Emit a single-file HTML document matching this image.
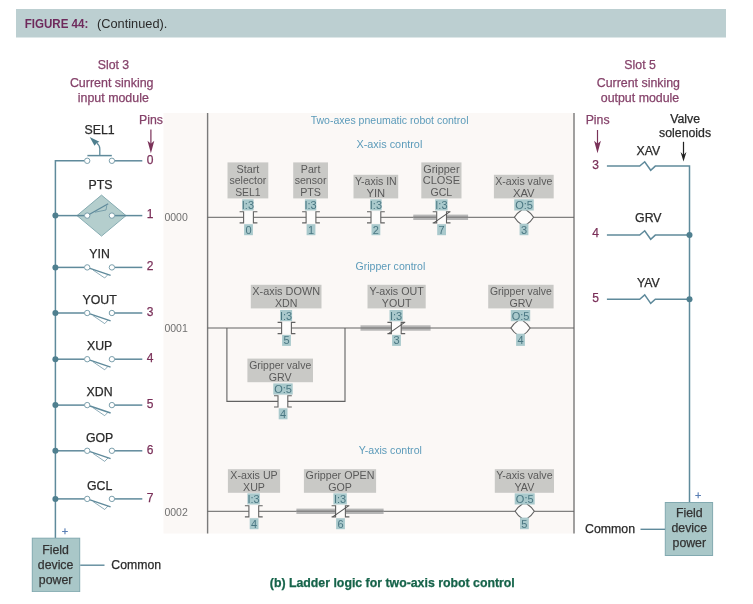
<!DOCTYPE html>
<html lang="en"><head><meta charset="utf-8"><title>Figure 44 (Continued) - Ladder logic for two-axis robot control</title>
<style>
html,body{margin:0;padding:0;background:#fff;}
body{width:753px;height:604px;overflow:hidden;font-family:"Liberation Sans",sans-serif;}
svg{display:block;}
svg text{font-family:"Liberation Sans",sans-serif;}
</style></head><body>
<svg width="753" height="604" viewBox="0 0 753 604">
<defs><filter id="soft0" x="0" y="0" width="100%" height="100%"><feGaussianBlur stdDeviation="0.35"/></filter><filter id="soft" x="-2%" y="-2%" width="104%" height="104%"><feGaussianBlur stdDeviation="0.55"/></filter></defs>
<rect width="753" height="604" fill="#ffffff"/>
<g filter="url(#soft0)">
<rect x="16" y="9" width="710" height="28.5" fill="#bccfd1"/>
<text x="24.7" y="28.1" font-size="13.2" fill="#6e2a5c" text-anchor="start" font-weight="bold" textLength="63.6" lengthAdjust="spacingAndGlyphs">FIGURE 44:</text>
<text x="97" y="28.1" font-size="13.5" fill="#2b2b2b" text-anchor="start" textLength="70.4" lengthAdjust="spacingAndGlyphs">(Continued).</text>
<text x="113.5" y="68.8" font-size="12.3" fill="#85426a" text-anchor="middle" stroke="#85426a" stroke-width="0.25">Slot 3</text>
<text x="111.7" y="87.2" font-size="12.3" fill="#85426a" text-anchor="middle" textLength="83.6" lengthAdjust="spacingAndGlyphs" stroke="#85426a" stroke-width="0.25">Current sinking</text>
<text x="113.3" y="102" font-size="12.3" fill="#85426a" text-anchor="middle" textLength="71" lengthAdjust="spacingAndGlyphs" stroke="#85426a" stroke-width="0.25">input module</text>
<text x="151" y="124.3" font-size="12.3" fill="#85426a" text-anchor="middle" stroke="#85426a" stroke-width="0.25">Pins</text>
<line x1="150.9" y1="129.5" x2="150.9" y2="149.3" stroke="#7a3059" stroke-width="1.2"/>
<path d="M147.5 140.8 L150.9 143.8 L154.3 140.8 L150.9 153.3 Z" fill="#7a3059"/>
<path d="M55.4 538 V160.8 H84" fill="none" stroke="#5f8a9b" stroke-width="1.5"/>
<line x1="114.9" y1="160.8" x2="142.3" y2="160.8" stroke="#5f8a9b" stroke-width="1.5"/>
<circle cx="87.2" cy="160.8" r="2.7" fill="#fff" stroke="#7a9eab" stroke-width="1"/>
<circle cx="111.9" cy="160.8" r="2.7" fill="#fff" stroke="#7a9eab" stroke-width="1"/>
<line x1="87.4" y1="155.60000000000002" x2="111.8" y2="155.60000000000002" stroke="#5f8a9b" stroke-width="1.5"/>
<path d="M99.8 155.60000000000002 V148.8 Q99.8 145.20000000000002 96.9 143.20000000000002" fill="none" stroke="#5f8a9b" stroke-width="1.3"/>
<path d="M89.7 137.0 L99.4 141.70000000000002 L96.6 143.20000000000002 L94.5 145.70000000000002 Z" fill="#4f7f8f"/>
<text x="99.6" y="134.20000000000002" font-size="12.3" fill="#2a2a2a" text-anchor="middle" stroke="#2a2a2a" stroke-width="0.25">SEL1</text>
<text x="150" y="163.5" font-size="12" fill="#7a3059" text-anchor="middle" stroke="#7a3059" stroke-width="0.25">0</text>
<path d="M77 215.6 L101.5 195.1 L126 215.6 L101.5 236.1 Z" fill="#b4cecd" stroke="#86abb1" stroke-width="1"/>
<line x1="55.4" y1="215.6" x2="84.2" y2="215.6" stroke="#5f8a9b" stroke-width="1.5"/>
<circle cx="55.4" cy="215.6" r="3" fill="#4f7f8f"/>
<line x1="114.9" y1="215.6" x2="142.3" y2="215.6" stroke="#5f8a9b" stroke-width="1.5"/>
<circle cx="87.2" cy="215.6" r="2.7" fill="#fff" stroke="#7a9eab" stroke-width="1"/>
<circle cx="111.9" cy="215.6" r="2.7" fill="#fff" stroke="#7a9eab" stroke-width="1"/>
<path d="M89.60000000000001 214.29999999999998 L108.2 203.79999999999998" fill="none" stroke="#5f8a9b" stroke-width="1.3"/>
<path d="M106.8 205.4 L106 210.0 L95 212.2" fill="none" stroke="#5f8a9b" stroke-width="0.7"/>
<text x="100.4" y="189.0" font-size="12.3" fill="#2a2a2a" text-anchor="middle" stroke="#2a2a2a" stroke-width="0.25">PTS</text>
<text x="150" y="218.29999999999998" font-size="12" fill="#7a3059" text-anchor="middle" stroke="#7a3059" stroke-width="0.25">1</text>
<line x1="55.4" y1="267.4" x2="84.2" y2="267.4" stroke="#5f8a9b" stroke-width="1.5"/>
<circle cx="55.4" cy="267.4" r="3" fill="#4f7f8f"/>
<line x1="114.9" y1="267.4" x2="142.3" y2="267.4" stroke="#5f8a9b" stroke-width="1.5"/>
<circle cx="87.2" cy="267.4" r="2.7" fill="#fff" stroke="#7a9eab" stroke-width="1"/>
<circle cx="111.9" cy="267.4" r="2.7" fill="#fff" stroke="#7a9eab" stroke-width="1"/>
<path d="M90.0 268.29999999999995 L110.6 275.29999999999995" fill="none" stroke="#5f8a9b" stroke-width="1.4"/>
<path d="M108 274.5 L104.7 278.0 L93 270.0" fill="none" stroke="#5f8a9b" stroke-width="0.7"/>
<text x="99.6" y="258.2" font-size="12.3" fill="#2a2a2a" text-anchor="middle" stroke="#2a2a2a" stroke-width="0.25">YIN</text>
<text x="150" y="270.09999999999997" font-size="12" fill="#7a3059" text-anchor="middle" stroke="#7a3059" stroke-width="0.25">2</text>
<line x1="55.4" y1="313" x2="84.2" y2="313" stroke="#5f8a9b" stroke-width="1.5"/>
<circle cx="55.4" cy="313" r="3" fill="#4f7f8f"/>
<line x1="114.9" y1="313" x2="142.3" y2="313" stroke="#5f8a9b" stroke-width="1.5"/>
<circle cx="87.2" cy="313" r="2.7" fill="#fff" stroke="#7a9eab" stroke-width="1"/>
<circle cx="111.9" cy="313" r="2.7" fill="#fff" stroke="#7a9eab" stroke-width="1"/>
<path d="M90.0 313.9 L110.6 320.9" fill="none" stroke="#5f8a9b" stroke-width="1.4"/>
<path d="M108 320.1 L104.7 323.6 L93 315.6" fill="none" stroke="#5f8a9b" stroke-width="0.7"/>
<text x="99.6" y="303.8" font-size="12.3" fill="#2a2a2a" text-anchor="middle" stroke="#2a2a2a" stroke-width="0.25">YOUT</text>
<text x="150" y="315.7" font-size="12" fill="#7a3059" text-anchor="middle" stroke="#7a3059" stroke-width="0.25">3</text>
<line x1="55.4" y1="359.2" x2="84.2" y2="359.2" stroke="#5f8a9b" stroke-width="1.5"/>
<circle cx="55.4" cy="359.2" r="3" fill="#4f7f8f"/>
<line x1="114.9" y1="359.2" x2="142.3" y2="359.2" stroke="#5f8a9b" stroke-width="1.5"/>
<circle cx="87.2" cy="359.2" r="2.7" fill="#fff" stroke="#7a9eab" stroke-width="1"/>
<circle cx="111.9" cy="359.2" r="2.7" fill="#fff" stroke="#7a9eab" stroke-width="1"/>
<path d="M90.0 360.09999999999997 L110.6 367.09999999999997" fill="none" stroke="#5f8a9b" stroke-width="1.4"/>
<path d="M108 366.3 L104.7 369.8 L93 361.8" fill="none" stroke="#5f8a9b" stroke-width="0.7"/>
<text x="99.6" y="350.0" font-size="12.3" fill="#2a2a2a" text-anchor="middle" stroke="#2a2a2a" stroke-width="0.25">XUP</text>
<text x="150" y="361.9" font-size="12" fill="#7a3059" text-anchor="middle" stroke="#7a3059" stroke-width="0.25">4</text>
<line x1="55.4" y1="405.1" x2="84.2" y2="405.1" stroke="#5f8a9b" stroke-width="1.5"/>
<circle cx="55.4" cy="405.1" r="3" fill="#4f7f8f"/>
<line x1="114.9" y1="405.1" x2="142.3" y2="405.1" stroke="#5f8a9b" stroke-width="1.5"/>
<circle cx="87.2" cy="405.1" r="2.7" fill="#fff" stroke="#7a9eab" stroke-width="1"/>
<circle cx="111.9" cy="405.1" r="2.7" fill="#fff" stroke="#7a9eab" stroke-width="1"/>
<path d="M90.0 406.0 L110.6 413.0" fill="none" stroke="#5f8a9b" stroke-width="1.4"/>
<path d="M108 412.20000000000005 L104.7 415.70000000000005 L93 407.70000000000005" fill="none" stroke="#5f8a9b" stroke-width="0.7"/>
<text x="99.6" y="395.90000000000003" font-size="12.3" fill="#2a2a2a" text-anchor="middle" stroke="#2a2a2a" stroke-width="0.25">XDN</text>
<text x="150" y="407.8" font-size="12" fill="#7a3059" text-anchor="middle" stroke="#7a3059" stroke-width="0.25">5</text>
<line x1="55.4" y1="450.8" x2="84.2" y2="450.8" stroke="#5f8a9b" stroke-width="1.5"/>
<circle cx="55.4" cy="450.8" r="3" fill="#4f7f8f"/>
<line x1="114.9" y1="450.8" x2="142.3" y2="450.8" stroke="#5f8a9b" stroke-width="1.5"/>
<circle cx="87.2" cy="450.8" r="2.7" fill="#fff" stroke="#7a9eab" stroke-width="1"/>
<circle cx="111.9" cy="450.8" r="2.7" fill="#fff" stroke="#7a9eab" stroke-width="1"/>
<path d="M90.0 451.7 L110.6 458.7" fill="none" stroke="#5f8a9b" stroke-width="1.4"/>
<path d="M108 457.90000000000003 L104.7 461.40000000000003 L93 453.40000000000003" fill="none" stroke="#5f8a9b" stroke-width="0.7"/>
<text x="99.6" y="441.6" font-size="12.3" fill="#2a2a2a" text-anchor="middle" stroke="#2a2a2a" stroke-width="0.25">GOP</text>
<text x="150" y="453.5" font-size="12" fill="#7a3059" text-anchor="middle" stroke="#7a3059" stroke-width="0.25">6</text>
<line x1="55.4" y1="498.9" x2="84.2" y2="498.9" stroke="#5f8a9b" stroke-width="1.5"/>
<circle cx="55.4" cy="498.9" r="3" fill="#4f7f8f"/>
<line x1="114.9" y1="498.9" x2="142.3" y2="498.9" stroke="#5f8a9b" stroke-width="1.5"/>
<circle cx="87.2" cy="498.9" r="2.7" fill="#fff" stroke="#7a9eab" stroke-width="1"/>
<circle cx="111.9" cy="498.9" r="2.7" fill="#fff" stroke="#7a9eab" stroke-width="1"/>
<path d="M90.0 499.79999999999995 L110.6 506.79999999999995" fill="none" stroke="#5f8a9b" stroke-width="1.4"/>
<path d="M108 506.0 L104.7 509.5 L93 501.5" fill="none" stroke="#5f8a9b" stroke-width="0.7"/>
<text x="99.6" y="489.7" font-size="12.3" fill="#2a2a2a" text-anchor="middle" stroke="#2a2a2a" stroke-width="0.25">GCL</text>
<text x="150" y="501.59999999999997" font-size="12" fill="#7a3059" text-anchor="middle" stroke="#7a3059" stroke-width="0.25">7</text>
<rect x="32.3" y="538.2" width="47.4" height="53.5" fill="#a9c7c8" stroke="#82a9b0" stroke-width="1"/>
<text x="55.6" y="554.2" font-size="12.3" fill="#333" text-anchor="middle" stroke="#333" stroke-width="0.25">Field</text>
<text x="55.6" y="568.9" font-size="12.3" fill="#333" text-anchor="middle" stroke="#333" stroke-width="0.25">device</text>
<text x="55.6" y="583.8" font-size="12.3" fill="#333" text-anchor="middle" stroke="#333" stroke-width="0.25">power</text>
<text x="64.9" y="535" font-size="11" fill="#5a7fb5" text-anchor="middle" stroke="#5a7fb5" stroke-width="0.25">+</text>
<line x1="80.2" y1="565.2" x2="104.5" y2="565.2" stroke="#5f8a9b" stroke-width="1.4"/>
<text x="111.3" y="568.9" font-size="12.3" fill="#2a2a2a" text-anchor="start" textLength="49.8" lengthAdjust="spacingAndGlyphs" stroke="#2a2a2a" stroke-width="0.25">Common</text>
<g filter="url(#soft)">
<rect x="163.5" y="113" width="411" height="420.5" fill="#fbf8f6"/>
<line x1="207.6" y1="113" x2="207.6" y2="533.5" stroke="#7a7a7a" stroke-width="1.4"/>
<line x1="574" y1="113" x2="574" y2="533.5" stroke="#7a7a7a" stroke-width="1.4"/>
<text x="389.6" y="124" font-size="11" fill="#5c9bba" text-anchor="middle" textLength="157.8" lengthAdjust="spacingAndGlyphs">Two-axes pneumatic robot control</text>
<text x="389.4" y="148.1" font-size="11" fill="#5c9bba" text-anchor="middle" textLength="65.9" lengthAdjust="spacingAndGlyphs">X-axis control</text>
<text x="390.4" y="270" font-size="11" fill="#5c9bba" text-anchor="middle" textLength="69.8" lengthAdjust="spacingAndGlyphs">Gripper control</text>
<text x="390.3" y="454.2" font-size="11" fill="#5c9bba" text-anchor="middle" textLength="63.2" lengthAdjust="spacingAndGlyphs">Y-axis control</text>
<text x="164.4" y="221.3" font-size="10.5" fill="#707070" text-anchor="start" textLength="23.4" lengthAdjust="spacingAndGlyphs">0000</text>
<text x="164.4" y="331.8" font-size="10.5" fill="#707070" text-anchor="start" textLength="23.4" lengthAdjust="spacingAndGlyphs">0001</text>
<text x="164.4" y="515.6" font-size="10.5" fill="#707070" text-anchor="start" textLength="23.4" lengthAdjust="spacingAndGlyphs">0002</text>
<line x1="207.6" y1="217.3" x2="574" y2="217.3" stroke="#626262" stroke-width="1"/>
<rect x="413.3" y="214.60000000000002" width="54.80000000000001" height="5.4" fill="#b6b6b6"/>
<line x1="413.3" y1="217.3" x2="468.1" y2="217.3" stroke="#858585" stroke-width="1.6"/>
<rect x="227.5" y="162.4" width="40.80000000000001" height="36" fill="#c9c9c6"/>
<text x="247.9" y="172.6" font-size="11" fill="#5a5a5a" text-anchor="middle" textLength="22.9" lengthAdjust="spacingAndGlyphs">Start</text>
<text x="247.9" y="184.29999999999998" font-size="11" fill="#5a5a5a" text-anchor="middle" textLength="36.9" lengthAdjust="spacingAndGlyphs">selector</text>
<text x="247.9" y="196.0" font-size="11" fill="#5a5a5a" text-anchor="middle" textLength="25.5" lengthAdjust="spacingAndGlyphs">SEL1</text>
<rect x="242.20000000000002" y="199.3" width="11.4" height="11.2" fill="#a9c9cc"/>
<text x="247.9" y="208.9" font-size="11" fill="#4a7782" text-anchor="middle">I:3</text>
<rect x="243.6" y="211.70000000000002" width="9.8" height="11.2" fill="#fdfcfb"/>
<path d="M239.6 211.70000000000002 H243.6 V222.9 H239.6" fill="none" stroke="#626262" stroke-width="1.1"/>
<path d="M257.4 211.70000000000002 H253.4 V222.9 H257.4" fill="none" stroke="#626262" stroke-width="1.1"/>
<rect x="244.1" y="224.20000000000002" width="8.8" height="11" fill="#a9c9cc"/>
<text x="248.5" y="233.60000000000002" font-size="11" fill="#4a7782" text-anchor="middle">0</text>
<rect x="293.2" y="162.4" width="34.80000000000001" height="36" fill="#c9c9c6"/>
<text x="310.6" y="172.6" font-size="11" fill="#5a5a5a" text-anchor="middle" textLength="19.5" lengthAdjust="spacingAndGlyphs">Part</text>
<text x="310.6" y="184.29999999999998" font-size="11" fill="#5a5a5a" text-anchor="middle" textLength="31.9" lengthAdjust="spacingAndGlyphs">sensor</text>
<text x="310.6" y="196.0" font-size="11" fill="#5a5a5a" text-anchor="middle" textLength="20.9" lengthAdjust="spacingAndGlyphs">PTS</text>
<rect x="304.90000000000003" y="199.3" width="11.4" height="11.2" fill="#a9c9cc"/>
<text x="310.6" y="208.9" font-size="11" fill="#4a7782" text-anchor="middle">I:3</text>
<rect x="306.1" y="211.70000000000002" width="9.8" height="11.2" fill="#fdfcfb"/>
<path d="M302.1 211.70000000000002 H306.1 V222.9 H302.1" fill="none" stroke="#626262" stroke-width="1.1"/>
<path d="M319.9 211.70000000000002 H315.9 V222.9 H319.9" fill="none" stroke="#626262" stroke-width="1.1"/>
<rect x="306.6" y="224.20000000000002" width="8.8" height="11" fill="#a9c9cc"/>
<text x="311" y="233.60000000000002" font-size="11" fill="#4a7782" text-anchor="middle">1</text>
<rect x="353.5" y="174.8" width="44.69999999999999" height="23.6" fill="#c9c9c6"/>
<text x="375.85" y="185.0" font-size="11" fill="#5a5a5a" text-anchor="middle" textLength="41.8" lengthAdjust="spacingAndGlyphs">Y-axis IN</text>
<text x="375.85" y="196.7" font-size="11" fill="#5a5a5a" text-anchor="middle" textLength="18.7" lengthAdjust="spacingAndGlyphs">YIN</text>
<rect x="370.2" y="199.3" width="11.4" height="11.2" fill="#a9c9cc"/>
<text x="375.9" y="208.9" font-size="11" fill="#4a7782" text-anchor="middle">I:3</text>
<rect x="371.0" y="211.70000000000002" width="9.8" height="11.2" fill="#fdfcfb"/>
<path d="M367.0 211.70000000000002 H371.0 V222.9 H367.0" fill="none" stroke="#626262" stroke-width="1.1"/>
<path d="M384.79999999999995 211.70000000000002 H380.79999999999995 V222.9 H384.79999999999995" fill="none" stroke="#626262" stroke-width="1.1"/>
<rect x="371.5" y="224.20000000000002" width="8.8" height="11" fill="#a9c9cc"/>
<text x="375.9" y="233.60000000000002" font-size="11" fill="#4a7782" text-anchor="middle">2</text>
<rect x="421.3" y="162.4" width="40.19999999999999" height="36" fill="#c9c9c6"/>
<text x="441.4" y="172.6" font-size="11" fill="#5a5a5a" text-anchor="middle" textLength="36.3" lengthAdjust="spacingAndGlyphs">Gripper</text>
<text x="441.4" y="184.29999999999998" font-size="11" fill="#5a5a5a" text-anchor="middle" textLength="37.4" lengthAdjust="spacingAndGlyphs">CLOSE</text>
<text x="441.4" y="196.0" font-size="11" fill="#5a5a5a" text-anchor="middle" textLength="21.6" lengthAdjust="spacingAndGlyphs">GCL</text>
<rect x="435.2" y="199.3" width="12.4" height="11.2" fill="#a9c9cc"/>
<text x="441.4" y="208.9" font-size="11" fill="#4a7782" text-anchor="middle">I:3</text>
<rect x="436.70000000000005" y="211.70000000000002" width="9.8" height="11.2" fill="#fdfcfb"/>
<path d="M432.70000000000005 211.70000000000002 H436.70000000000005 V222.9 H432.70000000000005" fill="none" stroke="#626262" stroke-width="1.1"/>
<path d="M450.5 211.70000000000002 H446.5 V222.9 H450.5" fill="none" stroke="#626262" stroke-width="1.1"/>
<line x1="433.8" y1="222.9" x2="449.6" y2="211.9" stroke="#555" stroke-width="1.1"/>
<rect x="437.20000000000005" y="224.20000000000002" width="8.8" height="11" fill="#a9c9cc"/>
<text x="441.6" y="233.60000000000002" font-size="11" fill="#4a7782" text-anchor="middle">7</text>
<rect x="493.9" y="174.8" width="59.80000000000007" height="23.6" fill="#c9c9c6"/>
<text x="523.8" y="185.0" font-size="11" fill="#5a5a5a" text-anchor="middle" textLength="57" lengthAdjust="spacingAndGlyphs">X-axis valve</text>
<text x="523.8" y="196.7" font-size="11" fill="#5a5a5a" text-anchor="middle" textLength="21.7" lengthAdjust="spacingAndGlyphs">XAV</text>
<path d="M522 209.70000000000002 Q516.8 213.10000000000002 514.4 217.3 Q516.8 221.5 522 224.9 H526 Q531.2 221.5 533.6 217.3 Q531.2 213.10000000000002 526 209.70000000000002 Z" fill="#fdfcfb" stroke="#626262" stroke-width="1.1"/>
<rect x="514.25" y="199.3" width="19.5" height="11.2" fill="#a9c9cc"/>
<text x="524" y="208.9" font-size="11" fill="#4a7782" text-anchor="middle">O:5</text>
<rect x="519.6" y="223.70000000000002" width="8.8" height="11.5" fill="#a9c9cc"/>
<text x="524" y="233.60000000000002" font-size="11" fill="#4a7782" text-anchor="middle">3</text>
<line x1="207.6" y1="328" x2="574" y2="328" stroke="#626262" stroke-width="1"/>
<rect x="360.5" y="325.3" width="70.10000000000002" height="5.4" fill="#b6b6b6"/>
<line x1="360.5" y1="328" x2="430.6" y2="328" stroke="#858585" stroke-width="1.6"/>
<path d="M226.9 328 V401.4 H345 V328" fill="none" stroke="#626262" stroke-width="1.1"/>
<rect x="250.8" y="284.79999999999995" width="70.69999999999999" height="23.6" fill="#c9c9c6"/>
<text x="286.15" y="294.99999999999994" font-size="11" fill="#5a5a5a" text-anchor="middle" textLength="67.8" lengthAdjust="spacingAndGlyphs">X-axis DOWN</text>
<text x="286.15" y="306.69999999999993" font-size="11" fill="#5a5a5a" text-anchor="middle" textLength="22.5" lengthAdjust="spacingAndGlyphs">XDN</text>
<rect x="280.1" y="310" width="12" height="11.2" fill="#a9c9cc"/>
<text x="286.1" y="319.6" font-size="11" fill="#4a7782" text-anchor="middle">I:3</text>
<rect x="281.6" y="322.4" width="9.8" height="11.2" fill="#fdfcfb"/>
<path d="M277.6 322.4 H281.6 V333.6 H277.6" fill="none" stroke="#626262" stroke-width="1.1"/>
<path d="M295.4 322.4 H291.4 V333.6 H295.4" fill="none" stroke="#626262" stroke-width="1.1"/>
<rect x="282.1" y="334.9" width="8.8" height="11" fill="#a9c9cc"/>
<text x="286.5" y="344.3" font-size="11" fill="#4a7782" text-anchor="middle">5</text>
<rect x="367.5" y="284.79999999999995" width="58.19999999999999" height="23.6" fill="#c9c9c6"/>
<text x="396.6" y="294.99999999999994" font-size="11" fill="#5a5a5a" text-anchor="middle" textLength="54.2" lengthAdjust="spacingAndGlyphs">Y-axis OUT</text>
<text x="396.6" y="306.69999999999993" font-size="11" fill="#5a5a5a" text-anchor="middle" textLength="29.6" lengthAdjust="spacingAndGlyphs">YOUT</text>
<rect x="389.5" y="310" width="13.2" height="11.2" fill="#a9c9cc"/>
<text x="396.1" y="319.6" font-size="11" fill="#4a7782" text-anchor="middle">I:3</text>
<rect x="391.40000000000003" y="322.4" width="9.8" height="11.2" fill="#fdfcfb"/>
<path d="M387.40000000000003 322.4 H391.40000000000003 V333.6 H387.40000000000003" fill="none" stroke="#626262" stroke-width="1.1"/>
<path d="M405.2 322.4 H401.2 V333.6 H405.2" fill="none" stroke="#626262" stroke-width="1.1"/>
<line x1="388.5" y1="333.6" x2="404.3" y2="322.6" stroke="#555" stroke-width="1.1"/>
<rect x="392.1" y="334.9" width="8.8" height="11" fill="#a9c9cc"/>
<text x="396.5" y="344.3" font-size="11" fill="#4a7782" text-anchor="middle">3</text>
<rect x="488.2" y="284.79999999999995" width="65.40000000000003" height="23.6" fill="#c9c9c6"/>
<text x="520.9" y="294.99999999999994" font-size="11" fill="#5a5a5a" text-anchor="middle" textLength="62" lengthAdjust="spacingAndGlyphs">Gripper valve</text>
<text x="520.9" y="306.69999999999993" font-size="11" fill="#5a5a5a" text-anchor="middle" textLength="22.9" lengthAdjust="spacingAndGlyphs">GRV</text>
<path d="M518.5 320.4 Q513.3 323.8 510.9 328 Q513.3 332.2 518.5 335.6 H522.5 Q527.7 332.2 530.1 328 Q527.7 323.8 522.5 320.4 Z" fill="#fdfcfb" stroke="#626262" stroke-width="1.1"/>
<rect x="510.8" y="310" width="19.4" height="11.2" fill="#a9c9cc"/>
<text x="520.5" y="319.6" font-size="11" fill="#4a7782" text-anchor="middle">O:5</text>
<rect x="516.1" y="333.7" width="8.8" height="12.2" fill="#a9c9cc"/>
<text x="520.5" y="344.3" font-size="11" fill="#4a7782" text-anchor="middle">4</text>
<rect x="247.4" y="358.59999999999997" width="65.6" height="23.6" fill="#c9c9c6"/>
<text x="280.2" y="368.79999999999995" font-size="11" fill="#5a5a5a" text-anchor="middle" textLength="62" lengthAdjust="spacingAndGlyphs">Gripper valve</text>
<text x="280.2" y="380.49999999999994" font-size="11" fill="#5a5a5a" text-anchor="middle" textLength="22.9" lengthAdjust="spacingAndGlyphs">GRV</text>
<rect x="273.3" y="383.4" width="19.4" height="11.2" fill="#a9c9cc"/>
<text x="283" y="393.0" font-size="11" fill="#4a7782" text-anchor="middle">O:5</text>
<rect x="278.0" y="395.79999999999995" width="9.8" height="11.2" fill="#fdfcfb"/>
<path d="M274.0 395.79999999999995 H278.0 V407.0 H274.0" fill="none" stroke="#626262" stroke-width="1.1"/>
<path d="M291.79999999999995 395.79999999999995 H287.79999999999995 V407.0 H291.79999999999995" fill="none" stroke="#626262" stroke-width="1.1"/>
<rect x="278.70000000000005" y="408.29999999999995" width="8.8" height="11" fill="#a9c9cc"/>
<text x="283.1" y="417.7" font-size="11" fill="#4a7782" text-anchor="middle">4</text>
<line x1="207.6" y1="511.3" x2="574" y2="511.3" stroke="#626262" stroke-width="1"/>
<rect x="296.4" y="508.6" width="87.20000000000005" height="5.4" fill="#b6b6b6"/>
<line x1="296.4" y1="511.3" x2="383.6" y2="511.3" stroke="#858585" stroke-width="1.6"/>
<rect x="227.9" y="469.2" width="52.20000000000002" height="23.6" fill="#c9c9c6"/>
<text x="254.0" y="479.4" font-size="11" fill="#5a5a5a" text-anchor="middle" textLength="47.4" lengthAdjust="spacingAndGlyphs">X-axis UP</text>
<text x="254.0" y="491.09999999999997" font-size="11" fill="#5a5a5a" text-anchor="middle" textLength="21.9" lengthAdjust="spacingAndGlyphs">XUP</text>
<rect x="247.4" y="493.3" width="12.4" height="11.2" fill="#a9c9cc"/>
<text x="253.6" y="502.90000000000003" font-size="11" fill="#4a7782" text-anchor="middle">I:3</text>
<rect x="248.9" y="505.7" width="9.8" height="11.2" fill="#fdfcfb"/>
<path d="M244.9 505.7 H248.9 V516.9 H244.9" fill="none" stroke="#626262" stroke-width="1.1"/>
<path d="M262.7 505.7 H258.7 V516.9 H262.7" fill="none" stroke="#626262" stroke-width="1.1"/>
<rect x="249.7" y="518.2" width="8.8" height="11" fill="#a9c9cc"/>
<text x="254.1" y="527.6" font-size="11" fill="#4a7782" text-anchor="middle">4</text>
<rect x="303.9" y="469.2" width="72.20000000000005" height="23.6" fill="#c9c9c6"/>
<text x="340.0" y="479.4" font-size="11" fill="#5a5a5a" text-anchor="middle" textLength="68.8" lengthAdjust="spacingAndGlyphs">Gripper OPEN</text>
<text x="340.0" y="491.09999999999997" font-size="11" fill="#5a5a5a" text-anchor="middle" textLength="23.7" lengthAdjust="spacingAndGlyphs">GOP</text>
<rect x="333.40000000000003" y="493.3" width="13.4" height="11.2" fill="#a9c9cc"/>
<text x="340.1" y="502.90000000000003" font-size="11" fill="#4a7782" text-anchor="middle">I:3</text>
<rect x="335.6" y="505.7" width="9.8" height="11.2" fill="#fdfcfb"/>
<path d="M331.6 505.7 H335.6 V516.9 H331.6" fill="none" stroke="#626262" stroke-width="1.1"/>
<path d="M349.4 505.7 H345.4 V516.9 H349.4" fill="none" stroke="#626262" stroke-width="1.1"/>
<line x1="332.7" y1="516.9" x2="348.5" y2="505.90000000000003" stroke="#555" stroke-width="1.1"/>
<rect x="336.1" y="518.2" width="8.8" height="11" fill="#a9c9cc"/>
<text x="340.5" y="527.6" font-size="11" fill="#4a7782" text-anchor="middle">6</text>
<rect x="494.8" y="469.2" width="59.19999999999999" height="23.6" fill="#c9c9c6"/>
<text x="524.4" y="479.4" font-size="11" fill="#5a5a5a" text-anchor="middle" textLength="56.5" lengthAdjust="spacingAndGlyphs">Y-axis valve</text>
<text x="524.4" y="491.09999999999997" font-size="11" fill="#5a5a5a" text-anchor="middle" textLength="19.8" lengthAdjust="spacingAndGlyphs">YAV</text>
<path d="M522.7 503.7 Q517.5 507.1 515.1 511.3 Q517.5 515.5 522.7 518.9 H526.7 Q531.9000000000001 515.5 534.3000000000001 511.3 Q531.9000000000001 507.1 526.7 503.7 Z" fill="#fdfcfb" stroke="#626262" stroke-width="1.1"/>
<rect x="514.7" y="493.3" width="20" height="11.2" fill="#a9c9cc"/>
<text x="524.7" y="502.90000000000003" font-size="11" fill="#4a7782" text-anchor="middle">O:5</text>
<rect x="520.0" y="517.6" width="8.8" height="11.6" fill="#a9c9cc"/>
<text x="524.4" y="527.6" font-size="11" fill="#4a7782" text-anchor="middle">5</text>
</g>
<text x="640.1" y="68.8" font-size="12.3" fill="#85426a" text-anchor="middle" stroke="#85426a" stroke-width="0.25">Slot 5</text>
<text x="638.4" y="87.2" font-size="12.3" fill="#85426a" text-anchor="middle" textLength="83.2" lengthAdjust="spacingAndGlyphs" stroke="#85426a" stroke-width="0.25">Current sinking</text>
<text x="640" y="102" font-size="12.3" fill="#85426a" text-anchor="middle" textLength="78.4" lengthAdjust="spacingAndGlyphs" stroke="#85426a" stroke-width="0.25">output module</text>
<text x="597.6" y="124.3" font-size="12.3" fill="#85426a" text-anchor="middle" stroke="#85426a" stroke-width="0.25">Pins</text>
<line x1="597.5" y1="130" x2="597.5" y2="149.3" stroke="#7a3059" stroke-width="1.2"/>
<path d="M594.1 140.8 L597.5 143.8 L600.9 140.8 L597.5 153.3 Z" fill="#7a3059"/>
<text x="685.1" y="123.2" font-size="12.3" fill="#2a2a2a" text-anchor="middle" stroke="#2a2a2a" stroke-width="0.25">Valve</text>
<text x="685.1" y="137.2" font-size="12.3" fill="#2a2a2a" text-anchor="middle" textLength="52" lengthAdjust="spacingAndGlyphs" stroke="#2a2a2a" stroke-width="0.25">solenoids</text>
<line x1="683.5" y1="141.8" x2="683.5" y2="157.5" stroke="#222" stroke-width="1.2"/>
<path d="M680.6 152.0 L683.5 155.0 L686.4 152.0 L683.5 161.5 Z" fill="#222"/>
<path d="M606.9 166.1 H639.7 L644.7 161.8 L650.7 170.3 L655.3 166.1 H689.5 V502.5" fill="none" stroke="#5f8a9b" stroke-width="1.5" stroke-linejoin="miter"/>
<path d="M606.9 235.1 H639.7 L644.7 230.79999999999998 L650.7 239.29999999999998 L655.3 235.1 H689.5" fill="none" stroke="#5f8a9b" stroke-width="1.5"/>
<circle cx="689.5" cy="235.1" r="3" fill="#4f7f8f"/>
<path d="M606.9 299.2 H639.7 L644.7 294.9 L650.7 303.4 L655.3 299.2 H689.5" fill="none" stroke="#5f8a9b" stroke-width="1.5"/>
<circle cx="689.5" cy="299.2" r="3" fill="#4f7f8f"/>
<text x="595.5" y="168.5" font-size="12" fill="#7a3059" text-anchor="middle" stroke="#7a3059" stroke-width="0.25">3</text>
<text x="648.3" y="154.5" font-size="12.3" fill="#2a2a2a" text-anchor="middle" stroke="#2a2a2a" stroke-width="0.25">XAV</text>
<text x="595.5" y="237" font-size="12" fill="#7a3059" text-anchor="middle" stroke="#7a3059" stroke-width="0.25">4</text>
<text x="648.3" y="221.8" font-size="12.3" fill="#2a2a2a" text-anchor="middle" stroke="#2a2a2a" stroke-width="0.25">GRV</text>
<text x="595.5" y="301.8" font-size="12" fill="#7a3059" text-anchor="middle" stroke="#7a3059" stroke-width="0.25">5</text>
<text x="648.3" y="287" font-size="12.3" fill="#2a2a2a" text-anchor="middle" stroke="#2a2a2a" stroke-width="0.25">YAV</text>
<rect x="665.3" y="502.5" width="47.3" height="53" fill="#a9c7c8" stroke="#82a9b0" stroke-width="1"/>
<text x="689.3" y="517.3" font-size="12.3" fill="#333" text-anchor="middle" stroke="#333" stroke-width="0.25">Field</text>
<text x="689.3" y="532.3" font-size="12.3" fill="#333" text-anchor="middle" stroke="#333" stroke-width="0.25">device</text>
<text x="689.3" y="547.4" font-size="12.3" fill="#333" text-anchor="middle" stroke="#333" stroke-width="0.25">power</text>
<text x="698.3" y="498.8" font-size="11" fill="#5a7fb5" text-anchor="middle" stroke="#5a7fb5" stroke-width="0.25">+</text>
<line x1="640.5" y1="529.3" x2="665" y2="529.3" stroke="#5f8a9b" stroke-width="1.4"/>
<text x="585" y="533.2" font-size="12.3" fill="#2a2a2a" text-anchor="start" textLength="50" lengthAdjust="spacingAndGlyphs" stroke="#2a2a2a" stroke-width="0.25">Common</text>
<text x="269.8" y="587.3" font-size="12.3" fill="#15634a" text-anchor="start" font-weight="bold" textLength="245" lengthAdjust="spacingAndGlyphs" stroke="#15634a" stroke-width="0.25">(b) Ladder logic for two-axis robot control</text>
</g>
</svg>
</body></html>
